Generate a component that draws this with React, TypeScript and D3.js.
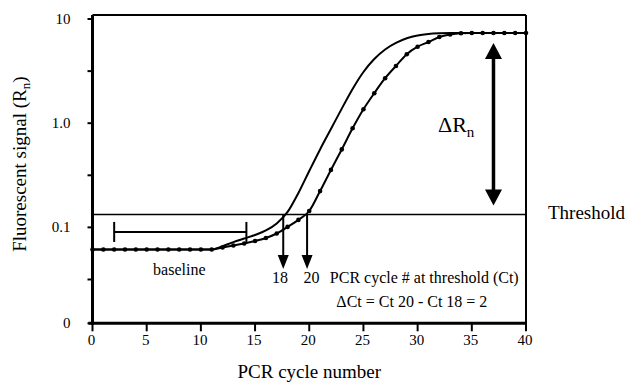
import { useEffect, useRef } from "react";
import * as d3 from "d3";

// PCR cycles 0..40
const cycles = [
  0, 1, 2, 3, 4, 5, 6, 7, 8, 9, 10, 11, 12, 13, 14, 15, 16, 17, 18, 19, 20,
  21, 22, 23, 24, 25, 26, 27, 28, 29, 30, 31, 32, 33, 34, 35, 36, 37, 38, 39, 40,
];

// solid curve (Ct 18)
const sampleEarly = [
  0.0614, 0.0614, 0.0614, 0.0614, 0.0614, 0.0614, 0.0614, 0.0614, 0.0614, 0.0614, 0.0614,
  0.0614, 0.066, 0.0722, 0.0781, 0.0845, 0.0934, 0.109, 0.1406, 0.214, 0.348,
  0.56, 0.879, 1.38, 2.13, 3.1, 4.13, 5.1, 5.89, 6.53, 6.95,
  7.18, 7.29, 7.34, 7.34, 7.34, 7.34, 7.34, 7.34, 7.34, 7.34,
];

// curve with markers (Ct 20)
const sampleLate = [
  0.0614, 0.0614, 0.0614, 0.0614, 0.0614, 0.0614, 0.0614, 0.0614, 0.0614, 0.0614, 0.0614,
  0.0614, 0.0641, 0.067, 0.07, 0.074, 0.0791, 0.0873, 0.101, 0.118, 0.1436,
  0.223, 0.356, 0.56, 0.893, 1.36, 1.94, 2.7, 3.54, 4.59, 5.42,
  6.01, 6.71, 7.09, 7.29, 7.34, 7.34, 7.34, 7.34, 7.34, 7.34,
];

const xTicks = [0, 5, 10, 15, 20, 25, 30, 35, 40];
const yMin = 0.012;
const yTicks = [yMin, 0.1, 1, 10];
const yTickLabels = ["0", "0.1", "1.0", "10"];
const yMinorTicks = [0.0316, 0.316, 3.16];

const threshold = 0.133;
const plateau = 7.34;
const baselineSpan = [2, 14.2];
const ctArrowCycles = [17.6, 19.8];
const ctLabelCycles = [17.3, 20.2];
const ctLabels = ["18", "20"];
const deltaRnCycle = 37;

const FONT = "'Liberation Serif', 'Times New Roman', serif";

function QpcrChart() {
  const svgRef = useRef<SVGSVGElement>(null);

  useEffect(() => {
    if (!svgRef.current) return;
    const width = 631;
    const height = 389;
    const svg = d3.select(svgRef.current);
    svg.selectAll("*").remove();
    svg.attr("viewBox", `0 0 ${width} ${height}`);

    const x = d3.scaleLinear().domain([0, 40]).range([92.5, 526]);
    const y = d3.scaleLog().domain([yMin, 10]).range([323.3, 19]);
    const top = 15;

    // frame
    svg.append("line")
      .attr("x1", x(0)).attr("x2", x(40)).attr("y1", top).attr("y2", top)
      .attr("stroke", "#000").attr("stroke-width", 2);
    svg.append("line")
      .attr("x1", x(40)).attr("x2", x(40)).attr("y1", top).attr("y2", y(yMin))
      .attr("stroke", "#000").attr("stroke-width", 2);

    // x axis
    const xAxis = svg.append("g").attr("transform", `translate(0,${y(yMin)})`);
    xAxis.append("line")
      .attr("x1", x(0) - 4).attr("x2", x(40) + 1)
      .attr("stroke", "#000").attr("stroke-width", 3);
    xAxis.selectAll("line.tick").data(xTicks).join("line")
      .attr("class", "tick")
      .attr("x1", d => x(d)).attr("x2", d => x(d)).attr("y1", 0).attr("y2", 8)
      .attr("stroke", "#000").attr("stroke-width", 2);
    xAxis.selectAll("text").data(xTicks).join("text")
      .attr("x", d => x(d) - 1).attr("y", 22)
      .attr("text-anchor", "middle")
      .attr("font-family", FONT).attr("font-size", 15)
      .text(d => String(d));

    // y axis
    const yAxis = svg.append("g").attr("transform", `translate(${x(0)},0)`);
    yAxis.append("line")
      .attr("y1", top).attr("y2", y(yMin) + 1.5)
      .attr("stroke", "#000").attr("stroke-width", 3);
    yAxis.selectAll("line.tick").data([...yTicks, ...yMinorTicks]).join("line")
      .attr("class", "tick")
      .attr("x1", -5).attr("x2", 0).attr("y1", d => y(d)).attr("y2", d => y(d))
      .attr("stroke", "#000").attr("stroke-width", 2);
    yAxis.selectAll("text").data(yTicks).join("text")
      .attr("x", -22).attr("y", d => y(d) + 5)
      .attr("text-anchor", "end")
      .attr("font-family", FONT).attr("font-size", 15)
      .text((_, i) => yTickLabels[i]);

    // axis titles
    svg.append("text")
      .attr("x", (x(0) + x(40)) / 2).attr("y", 378)
      .attr("text-anchor", "middle")
      .attr("font-family", FONT).attr("font-size", 19)
      .text("PCR cycle number");

    const yt = svg.append("text")
      .attr("transform", `translate(26,${(y(yMin) + top) / 2 - 5}) rotate(-90)`)
      .attr("text-anchor", "middle")
      .attr("font-family", FONT).attr("font-size", 19);
    yt.append("tspan").text("Fluorescent signal (R");
    yt.append("tspan").attr("font-size", 13).attr("dy", 4).text("n");
    yt.append("tspan").attr("dy", -4).text(")");

    // threshold line
    svg.append("line")
      .attr("x1", x(0)).attr("x2", x(40))
      .attr("y1", y(threshold)).attr("y2", y(threshold))
      .attr("stroke", "#000").attr("stroke-width", 1.6);
    svg.append("text")
      .attr("x", x(40) + 22).attr("y", y(threshold) + 5)
      .attr("font-family", FONT).attr("font-size", 19)
      .text("Threshold");

    // baseline bracket
    const by = y(0.0614) - 17.5;
    const bracket = svg.append("g").attr("stroke", "#000").attr("stroke-width", 2);
    bracket.append("line")
      .attr("x1", x(baselineSpan[0])).attr("x2", x(baselineSpan[1]))
      .attr("y1", by).attr("y2", by);
    bracket.selectAll("line.cap").data(baselineSpan).join("line")
      .attr("class", "cap")
      .attr("x1", d => x(d)).attr("x2", d => x(d))
      .attr("y1", by - 10).attr("y2", by + 10);
    svg.append("text")
      .attr("x", x((baselineSpan[0] + baselineSpan[1]) / 2) - 1).attr("y", 275)
      .attr("text-anchor", "middle")
      .attr("font-family", FONT).attr("font-size", 16)
      .text("baseline");

    // curves
    const line = d3.line<number>()
      .x((_, i) => x(cycles[i]))
      .y(d => y(d))
      .curve(d3.curveMonotoneX);

    svg.append("path")
      .datum(sampleEarly)
      .attr("d", line)
      .attr("fill", "none").attr("stroke", "#000").attr("stroke-width", 2);

    svg.append("path")
      .datum(sampleLate)
      .attr("d", line)
      .attr("fill", "none").attr("stroke", "#000").attr("stroke-width", 2);

    svg.append("g").selectAll("circle").data(sampleLate).join("circle")
      .attr("cx", (_, i) => x(cycles[i]))
      .attr("cy", d => y(d))
      .attr("r", 2.3)
      .attr("fill", "#000");

    // Ct arrows
    const tip = 269;
    const ct = svg.append("g");
    ct.selectAll("line").data(ctArrowCycles).join("line")
      .attr("x1", d => x(d)).attr("x2", d => x(d))
      .attr("y1", y(threshold)).attr("y2", tip - 10)
      .attr("stroke", "#000").attr("stroke-width", 2);
    ct.selectAll("path").data(ctArrowCycles).join("path")
      .attr("d", d => `M${x(d) - 5.5},${tip - 14} L${x(d) + 5.5},${tip - 14} L${x(d)},${tip} Z`)
      .attr("fill", "#000");
    svg.append("g").selectAll("text").data(ctLabelCycles).join("text")
      .attr("x", d => x(d)).attr("y", 283)
      .attr("text-anchor", "middle")
      .attr("font-family", FONT).attr("font-size", 16)
      .text((_, i) => ctLabels[i]);

    svg.append("text")
      .attr("x", x(21.9)).attr("y", 283)
      .attr("font-family", FONT).attr("font-size", 16)
      .text("PCR cycle # at threshold (Ct)");
    svg.append("text")
      .attr("x", x(22.5)).attr("y", 306.5)
      .attr("font-family", FONT).attr("font-size", 16)
      .text("\u0394Ct = Ct 20 - Ct 18 = 2");

    // delta Rn double arrow
    const ax = x(deltaRnCycle);
    const aTop = y(plateau) + 10;
    const aBot = y(threshold) - 9;
    svg.append("line")
      .attr("x1", ax).attr("x2", ax).attr("y1", aTop + 12).attr("y2", aBot - 12)
      .attr("stroke", "#000").attr("stroke-width", 3.5);
    svg.append("path")
      .attr("d", `M${ax},${aTop} L${ax + 8.5},${aTop + 16} L${ax - 8.5},${aTop + 16} Z`)
      .attr("fill", "#000");
    svg.append("path")
      .attr("d", `M${ax},${aBot} L${ax + 8.5},${aBot - 16} L${ax - 8.5},${aBot - 16} Z`)
      .attr("fill", "#000");

    const dr = svg.append("text")
      .attr("x", 438).attr("y", 131.5)
      .attr("font-family", FONT).attr("font-size", 22);
    dr.append("tspan").text("\u0394R");
    dr.append("tspan").attr("font-size", 15).attr("dy", 5).text("n");
  }, []);

  return <svg ref={svgRef} width={631} height={389} style={{ display: "block" }} />;
}

export default function App() {
  useEffect(() => {
    document.body.style.margin = "0";
    document.body.style.background = "#fff";
  }, []);
  return <QpcrChart />;
}
